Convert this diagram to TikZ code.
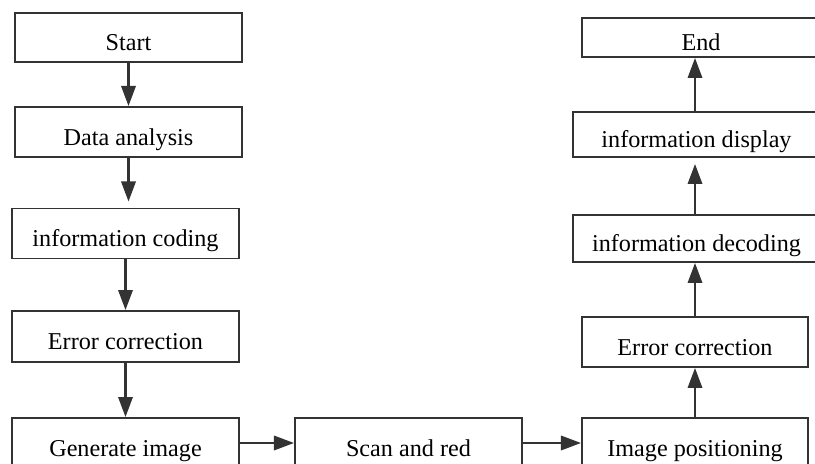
\documentclass[tikz,border=0pt]{standalone}
\usepackage{fontspec}
\setmainfont{Liberation Serif}
\usetikzlibrary{arrows.meta}

\tikzset{
    stepbox/.style={draw=black!80, line width=1.4pt, minimum height=1.25cm,
        inner sep=0pt, text height=20pt, text depth=1pt,
        font=\fontsize{17.2}{20}\selectfont},
    flow/.style={line width=1.5pt, draw=black!80,
        -{Triangle[length=0.5cm,width=0.36cm]}}
}

\begin{document}
\begin{tikzpicture}[x=0.025cm,y=-0.025cm]
        \clip (0,0) rectangle (815,464);
        \fill[white] (0,0) rectangle (815,464);
        % encoding side
        \node[stepbox, minimum width=5.675cm, minimum height=1.225cm] (start) at (128.5,37.5) {Start};
        \node[stepbox, minimum width=5.675cm] (data) at (128.5,132) {Data analysis};
        \node[stepbox, minimum width=5.675cm] (coding) at (125.5,233.5) {information coding};
        \node[stepbox, minimum width=5.675cm, minimum height=1.275cm] (errA) at (125.5,336.5) {Error correction};
        \node[stepbox, minimum width=5.675cm] (gen) at (125.5,443) {Generate image};
        % reading
        \node[stepbox, minimum width=5.675cm] (scan) at (408.5,443) {Scan and red};
        % decoding side
        \node[stepbox, minimum width=5.65cm] (pos) at (695,443) {Image positioning};
        \node[stepbox, minimum width=5.65cm] (errB) at (695,342) {Error correction};
        \node[stepbox, minimum width=6.175cm, minimum height=1.175cm] (dec) at (696.5,238.5) {information decoding};
        \node[stepbox, minimum width=6.175cm, minimum height=1.125cm] (disp) at (696.5,134.5) {information display};
        \node[stepbox, minimum width=5.95cm, minimum height=0.975cm] (end) at (701,37.5) {End};

        \draw[flow] (start) -- (data);
        \draw[flow, shorten >=0.15cm] (data.south) -- (data.south |- coding.north);
        \draw[flow] (coding) -- (errA);
        \draw[flow] (errA.south) -- (errA.south |- gen.north);
        \draw[flow] (gen) -- (scan);
        \draw[flow] (scan) -- (pos);
        \draw[flow] (pos.north) -- (errB.south);
        \draw[flow] (errB.north) -- (errB.north |- dec.south);
        \draw[flow, shorten >=0.15cm] (errB.north |- dec.north) -- (errB.north |- disp.south);
        \draw[flow] (errB.north |- disp.north) -- (errB.north |- end.south);
    \end{tikzpicture}
\end{document}
